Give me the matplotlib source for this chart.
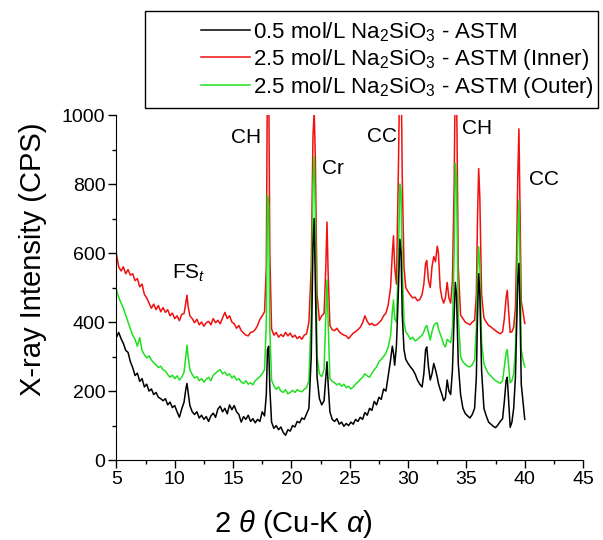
import matplotlib
matplotlib.use("Agg")
import matplotlib.pyplot as plt
from matplotlib.patches import Rectangle
from matplotlib.ticker import MultipleLocator

plt.rcParams['font.family'] = ['Liberation Sans', 'DejaVu Sans']
plt.rcParams['mathtext.fontset'] = 'custom'
plt.rcParams['mathtext.rm'] = 'Liberation Sans'
plt.rcParams['mathtext.it'] = 'Liberation Sans:italic'

# 2 theta (deg), shared by the three patterns
theta = [
    5.0, 5.2, 5.4, 5.6, 5.8, 6.0, 6.2, 6.4, 6.6, 6.8,
    7.0, 7.2, 7.4, 7.6, 7.8, 8.0, 8.2, 8.4, 8.6, 8.8,
    9.0, 9.2, 9.4, 9.6, 9.8, 10.0, 10.2, 10.4, 10.6, 10.8,
    10.95, 11.05, 11.15, 11.3, 11.5, 11.7, 11.9, 12.1, 12.3, 12.5,
    12.7, 12.9, 13.1, 13.3, 13.5, 13.7, 13.9, 14.1, 14.3, 14.5,
    14.7, 14.9, 15.1, 15.3, 15.5, 15.7, 15.9, 16.1, 16.3, 16.5,
    16.7, 16.9, 17.1, 17.3, 17.5, 17.7, 17.85, 17.95, 18.05, 18.15,
    18.3, 18.5, 18.7, 18.9, 19.1, 19.3, 19.5, 19.7, 19.9, 20.1,
    20.3, 20.5, 20.7, 20.9, 21.1, 21.3, 21.5, 21.7, 21.85, 21.95,
    22.05, 22.2, 22.4, 22.6, 22.8, 22.95, 23.05, 23.15, 23.3, 23.5,
    23.7, 23.9, 24.1, 24.3, 24.5, 24.7, 24.9, 25.1, 25.3, 25.5,
    25.7, 25.9, 26.1, 26.3, 26.5, 26.7, 26.9, 27.1, 27.3, 27.5,
    27.7, 27.9, 28.1, 28.3, 28.5, 28.65, 28.75, 28.85, 29.0, 29.15,
    29.3, 29.4, 29.5, 29.65, 29.8, 30.0, 30.2, 30.4, 30.6, 30.8,
    31.0, 31.2, 31.35, 31.5, 31.6, 31.75, 31.9, 32.05, 32.2, 32.35,
    32.5, 32.6, 32.75, 32.9, 33.05, 33.2, 33.35, 33.5, 33.65, 33.8,
    33.95, 34.05, 34.15, 34.3, 34.5, 34.7, 34.9, 35.1, 35.3, 35.5,
    35.7, 35.85, 35.95, 36.05, 36.15, 36.3, 36.5, 36.7, 36.9, 37.1,
    37.3, 37.5, 37.7, 37.9, 38.1, 38.25, 38.4, 38.5, 38.6, 38.75,
    38.9, 39.05, 39.2, 39.3, 39.4, 39.5, 39.6, 39.7, 39.85, 40.0,
]

# 0.5 mol/L Na2SiO3 - ASTM
cps_05 = [
    355, 370, 352, 338, 318, 312, 285, 268, 245, 252,
    228, 236, 212, 220, 200, 206, 190, 196, 182, 178,
    172, 178, 160, 168, 152, 158, 140, 124, 148, 168,
    205, 222, 196, 158, 140, 132, 140, 122, 130, 118,
    126, 112, 128, 136, 124, 148, 156, 140, 150, 134,
    160, 146, 158, 140, 132, 110, 126, 118, 130, 112,
    120, 108, 118, 112, 140, 128, 190, 320, 330, 210,
    110, 92, 100, 88, 96, 80, 72, 88, 84, 100,
    96, 112, 108, 122, 118, 134, 150, 300, 620, 700,
    520, 240, 178, 160, 172, 240, 285, 220, 140, 118,
    112, 120, 104, 110, 98, 106, 100, 110, 104, 118,
    112, 124, 118, 138, 130, 150, 144, 170, 160, 182,
    176, 206, 200, 245, 290, 330, 310, 275, 330, 470,
    640, 600, 420, 320, 292, 280, 270, 262, 250, 232,
    220, 212, 250, 320, 328, 270, 232, 250, 280, 262,
    240, 222, 205, 190, 172, 180, 232, 200, 190, 260,
    420, 515, 480, 280, 190, 150, 135, 128, 122, 132,
    150, 240, 420, 540, 480, 260, 150, 128, 110, 104,
    98, 94, 102, 112, 120, 170, 230, 240, 180, 95,
    110, 150, 240, 380, 520, 570, 420, 220, 170, 118,
]

# 2.5 mol/L Na2SiO3 - ASTM (Inner)
cps_25_inner = [
    598, 560, 548, 560, 540, 552, 536, 540, 520, 526,
    502, 510, 480, 470, 455, 440, 452, 436, 448, 430,
    442, 428, 436, 418, 426, 410, 418, 404, 422, 425,
    455, 478, 445, 418, 410, 398, 408, 392, 400, 388,
    398, 402, 392, 410, 398, 405, 395, 412, 428, 410,
    418, 400, 395, 382, 390, 375, 368, 362, 360, 370,
    372, 378, 390, 408, 418, 430, 560, 1150, 1150, 600,
    380, 362, 370, 356, 364, 358, 370, 360, 368, 356,
    362, 352, 358, 350, 362, 366, 400, 560, 940, 1010,
    880, 480, 405, 418, 425, 560, 690, 540, 390, 378,
    375, 382, 372, 366, 362, 360, 352, 360, 368, 372,
    378, 385, 398, 418, 402, 392, 396, 390, 392, 398,
    405, 418, 426, 450, 500, 600, 650, 560, 510, 800,
    1150, 1150, 820, 560, 500, 488, 478, 470, 472, 462,
    465, 480, 510, 570, 578, 520, 500, 560, 590, 575,
    620, 600, 500, 470, 455, 470, 515, 470, 455, 520,
    800, 1150, 1100, 560, 420, 410, 400, 396, 392, 400,
    405, 480, 700, 845, 760, 480, 412, 400, 390, 386,
    380, 375, 370, 366, 372, 410, 470, 492, 440, 370,
    372, 385, 440, 600, 820, 960, 720, 460, 430, 396,
]

# 2.5 mol/L Na2SiO3 - ASTM (Outer)
cps_25_outer = [
    495, 472, 455, 440, 420, 400, 380, 362, 350, 330,
    355, 318, 305, 296, 302, 290, 282, 276, 268, 272,
    262, 258, 248, 240, 246, 236, 244, 232, 240, 255,
    300, 333, 300, 262, 248, 238, 242, 230, 236, 226,
    234, 240, 230, 246, 252, 258, 262, 250, 255, 245,
    250, 238, 244, 232, 236, 226, 222, 230, 220, 224,
    218, 230, 236, 242, 250, 262, 400, 768, 740, 380,
    232, 215, 205, 212, 200, 196, 204, 192, 196, 202,
    196, 204, 200, 198, 205, 210, 230, 420, 800, 880,
    720, 300, 250, 242, 262, 420, 522, 400, 236, 228,
    224, 218, 222, 214, 220, 210, 214, 206, 212, 220,
    226, 234, 240, 250, 244, 240, 252, 262, 270, 285,
    292, 300, 310, 328, 360, 430, 464, 410, 400, 560,
    800, 780, 560, 400, 372, 362, 350, 356, 345, 350,
    356, 362, 372, 386, 390, 370, 348, 372, 390, 396,
    398, 380, 366, 352, 335, 328, 350, 345, 340, 380,
    600, 860, 820, 420, 300, 285, 278, 272, 270, 276,
    290, 380, 540, 618, 560, 340, 280, 262, 250, 244,
    236, 230, 226, 222, 230, 270, 310, 320, 280, 224,
    230, 250, 320, 450, 650, 754, 560, 320, 290, 270,
]

labels = [
    '0.5 mol/L Na$_2$SiO$_3$ - ASTM',
    '2.5 mol/L Na$_2$SiO$_3$ - ASTM (Inner)',
    '2.5 mol/L Na$_2$SiO$_3$ - ASTM (Outer)',
]
colors = ['black', '#f01010', '#20e020']

# phase labels: text, 2theta, cps
phase_text = ['CH', 'Cr', 'CC', 'CH', 'CC', 'FS$_t$']
phase_x = [16.1, 23.55, 27.8, 35.95, 41.65, 9.8]
phase_y = [935, 845, 938, 960, 812, 540]

fig = plt.figure(figsize=(6.03, 5.40), dpi=100)
ax = fig.add_axes([0.193, 0.148, 0.774, 0.639])

l_inner, = ax.plot(theta, cps_25_inner, color=colors[1], lw=1.1, zorder=1)
l_outer, = ax.plot(theta, cps_25_outer, color=colors[2], lw=1.1, zorder=2)
l_05, = ax.plot(theta, cps_05, color=colors[0], lw=1.1, zorder=3)

ax.set_xlim(5, 45)
ax.set_ylim(0, 1000)
ax.xaxis.set_major_locator(MultipleLocator(5))
ax.xaxis.set_minor_locator(MultipleLocator(2.5))
ax.yaxis.set_major_locator(MultipleLocator(200))
ax.yaxis.set_minor_locator(MultipleLocator(100))
ax.spines['top'].set_visible(False)
ax.spines['right'].set_visible(False)
ax.tick_params(which='major', direction='out', length=6, width=1, labelsize=14, pad=2)
ax.tick_params(which='minor', direction='out', length=3, width=1)

for t, x, y in zip(phase_text, phase_x, phase_y):
    ax.text(x, y, t, fontsize=15, ha='center' if t != 'FS$_t$' else 'left',
            va='center', clip_on=False)

fig.text(0.486, 0.030, r'2 $\theta$ (Cu-K $\alpha$)', fontsize=21, ha='center', va='center')
fig.text(0.055, 0.52, 'X-ray Intensity (CPS)', fontsize=21, rotation=90,
         ha='center', va='center')

# legend sits above the axes, in its own box
fig.patches.append(Rectangle((0.240, 0.800), 0.752, 0.180, transform=fig.transFigure,
                             fill=False, edgecolor='black', lw=1.0))
fig.legend([l_05, l_inner, l_outer], labels, loc='upper left',
           bbox_to_anchor=(0.300, 1.0), frameon=False, fontsize=16,
           handlelength=2.2, handletextpad=0.15, labelspacing=0.15)

fig.savefig('out.png', dpi=100)
